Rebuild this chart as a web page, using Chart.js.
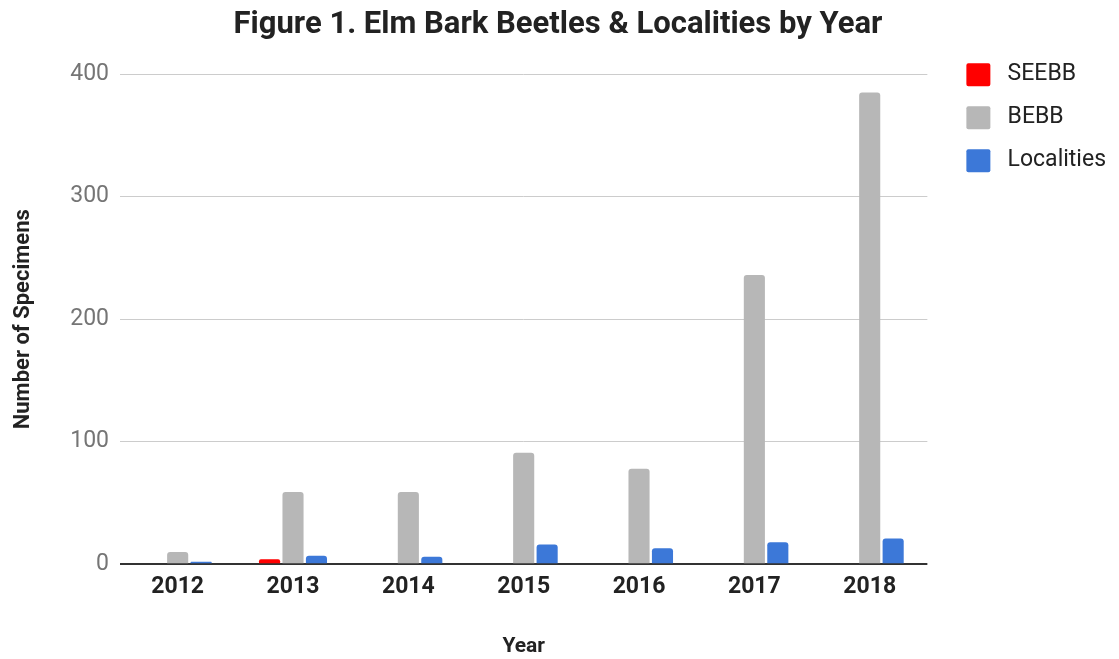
<!DOCTYPE html>
<html>
<head>
<meta charset="utf-8">
<script src="https://cdn.jsdelivr.net/npm/chart.js@4.4.0/dist/chart.umd.min.js"></script>
<style>
  html, body { margin: 0; padding: 0; background: #fff; }
  #wrap { width: 1119px; height: 659px; }
</style>
</head>
<body>
<div id="wrap"><canvas id="grafico"></canvas></div>
<script>
/* dados */
const ANOS = ['2012', '2013', '2014', '2015', '2016', '2017', '2018'];
const SEEBB = [0, 4, 0, 0, 0, 0, 0];
const BEBB = [10, 59, 59, 91, 78, 236, 385];
const LOCALIDADES = [2, 7, 6, 16, 13, 18, 21];
const TICKS_Y = [0, 100, 200, 300, 400];

const FONTE = 'Roboto';

const barra = (label, data, cor) => ({
  label,
  data,
  backgroundColor: cor,
  borderColor: cor,
  borderWidth: 0,
  borderRadius: 3,
  barPercentage: 0.9,
  categoryPercentage: 0.61,
});

new Chart(document.getElementById('grafico'), {
  type: 'bar',
  data: {
    labels: ANOS,
    datasets: [
      barra('SEEBB', SEEBB, '#ff0000'),
      barra('BEBB', BEBB, '#b7b7b7'),
      barra('Localities', LOCALIDADES, '#3c78d8'),
    ],
  },
  options: {
    responsive: true,
    maintainAspectRatio: false,
    animation: false,
    layout: { padding: { left: 0, right: 3, top: 4, bottom: 0 } },
    plugins: {
      title: {
        display: true,
        text: 'Figure 1. Elm Bark Beetles & Localities by Year',
        color: '#222',
        font: { family: FONTE, size: 31, weight: 'bold' },
        padding: { top: 3, bottom: 30 },
      },
      legend: {
        position: 'right',
        align: 'start',
        // titulo vazio so para empurrar os itens para baixo
        title: { display: true, text: ' ', font: { size: 1 }, padding: { top: 38, bottom: 0 } },
        labels: {
          color: '#222',
          font: { family: FONTE, size: 23 },
          boxWidth: 24,
          boxHeight: 23,
          padding: 20,
          useBorderRadius: true,
          borderRadius: 2,
          // espaco extra entre a caixa e o texto
          generateLabels: (chart) =>
            Chart.defaults.plugins.legend.labels.generateLabels(chart).map(l => ({ ...l, text: ' ' + l.text })),
        },
      },
      tooltip: { enabled: false },
    },
    scales: {
      x: {
        grid: { display: false, drawTicks: false },
        border: { display: false },
        ticks: { color: '#222', font: { family: FONTE, size: 23, weight: 'bold' }, padding: 9 },
        title: {
          display: true,
          text: 'Year',
          color: '#222',
          font: { family: FONTE, size: 21, weight: 'bold' },
          padding: { top: 24, bottom: 0 },
        },
      },
      y: {
        min: 0,
        max: 400,
        afterBuildTicks: (eixo) => { eixo.ticks = TICKS_Y.map(v => ({ value: v })); },
        afterFit: (eixo) => { eixo.width = 120; },
        grid: {
          drawTicks: false,
          color: (c) => c.tick && c.tick.value === 0 ? '#333' : '#cccccc',
          lineWidth: (c) => c.tick && c.tick.value === 0 ? 2 : 1,
        },
        border: { display: false },
        ticks: { color: '#757575', font: { family: FONTE, size: 23 }, padding: 11 },
        title: {
          display: true,
          text: 'Number of Specimens',
          color: '#222',
          font: { family: FONTE, size: 22, weight: 'bold' },
          padding: { top: 10, bottom: 0 },
        },
      },
      // eixo vazio a direita, so para abrir espaco antes da legenda
      folga: {
        position: 'right',
        display: true,
        grid: { display: false, drawTicks: false },
        border: { display: false },
        ticks: { display: false },
        afterFit: (eixo) => { eixo.width = 19; },
      },
    },
  },
});
</script>
</body>
</html>
